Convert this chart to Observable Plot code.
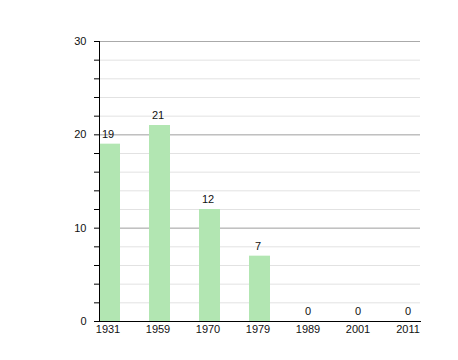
<!DOCTYPE html>
<html>
<head>
<meta charset="utf-8">
<script src="https://cdn.jsdelivr.net/npm/d3@7"></script>
<script src="https://cdn.jsdelivr.net/npm/@observablehq/plot@0.6"></script>
<style>
  html, body { margin: 0; padding: 0; background: #fff; }
  #chart { width: 458px; height: 360px; }
</style>
</head>
<body>
<div id="chart"></div>
<script>
const years = ["1931", "1959", "1970", "1979", "1989", "2001", "2011"];
const values = [19, 21, 12, 7, 0, 0, 0];
const majorTicks = [0, 10, 20, 30];
const minorTicks = d3.range(0, 31, 2);

const data = years.map((y, i) => ({year: y, value: values[i]}));

const chart = Plot.plot({
  width: 458,
  height: 360,
  marginLeft: 99,
  marginRight: 38,
  marginTop: 41,
  marginBottom: 39,
  style: {fontFamily: "Liberation Sans, Arial, sans-serif", fontSize: "11px", color: "#000", background: "#fff"},
  x: {domain: years, paddingInner: 0.58, paddingOuter: 0, align: 0, label: null},
  y: {domain: [0, 30], label: null},
  marks: [
    Plot.gridY(minorTicks, {stroke: "#e2e2e2", strokeOpacity: 1}),
    Plot.gridY(majorTicks, {stroke: "#aaaaaa", strokeOpacity: 1}),
    Plot.barY(data, {x: "year", y: "value", fill: "#b2e6b2"}),
    Plot.text(data, {x: "year", y: "value", text: d => String(d.value), dy: -10, dx: -2, fill: "#111", fontSize: 11}),
    Plot.axisY({ticks: minorTicks, tickSize: 5, tickPadding: 8, tickFormat: d => d % 10 === 0 ? String(d) : "", stroke: "#000", fill: "#111", fontSize: 11}),
    Plot.axisX({tickSize: 0, tickPadding: 4, dx: -2, fill: "#111", fontSize: 11}),
    Plot.frame({anchor: "left", stroke: "#000"}),
    Plot.frame({anchor: "bottom", stroke: "#000"})
  ]
});
document.getElementById("chart").appendChild(chart);
</script>
</body>
</html>
